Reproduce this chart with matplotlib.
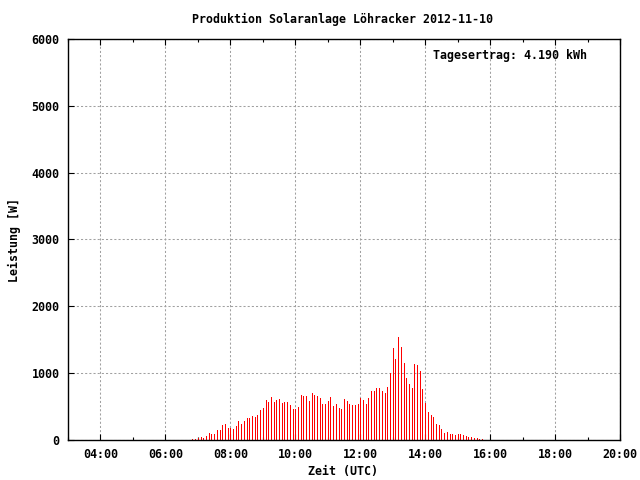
import numpy as np
import pandas as pd
import matplotlib
matplotlib.use("Agg")
import matplotlib.pyplot as plt
from matplotlib.ticker import MultipleLocator, FuncFormatter

# Leistung alle 5 Minuten ab 06:50 UTC
start_zeit = "2012-11-10 06:50"
leistung = [15, 15, 30, 45, 30, 60, 105, 90, 90, 150, 150, 225, 240, 180,
            180, 165, 210, 285, 240, 285, 330, 330, 360, 345, 375, 450,
            480, 600, 570, 645, 570, 600, 615, 555, 570, 570, 525, 465,
            465, 495, 675, 660, 660, 585, 705, 675, 660, 630, 540, 540,
            585, 645, 510, 540, 480, 465, 615, 585, 540, 525, 525, 540,
            630, 600, 540, 630, 735, 735, 780, 780, 735, 705, 795, 1005,
            1380, 1215, 1545, 1395, 1155, 930, 840, 780, 1140, 1125, 1035, 765,
            555, 420, 375, 345, 240, 225, 165, 105, 120, 90, 90, 75,
            90, 90, 75, 60, 45, 45, 30, 30, 15, 15]
titel = "Produktion Solaranlage Löhracker 2012-11-10"
ertrag_text = "Tagesertrag: 4.190 kWh"

zeiten = pd.date_range(start_zeit, periods=len(leistung), freq="5min")
stunden = zeiten.hour + zeiten.minute / 60.0

font = dict(family="DejaVu Sans Mono", weight="bold", size=8.4)

fig = plt.figure(figsize=(6.4, 4.8), dpi=100)
ax = fig.add_axes([68 / 640, 1 - 440 / 480, (620 - 68) / 640, (440 - 39) / 480])

ax.vlines(stunden, 0, leistung, colors="red", linewidth=0.6, antialiased=False)

ax.set_xlim(3, 20)
ax.set_ylim(0, 6000)
ax.xaxis.set_major_locator(MultipleLocator(2))
ax.xaxis.set_minor_locator(MultipleLocator(1))
ax.yaxis.set_major_locator(MultipleLocator(1000))
ax.xaxis.set_major_formatter(FuncFormatter(lambda v, p: "%02d:00" % int(round(v))))

ax.grid(True, which="major", color="#a0a0a0", linestyle=(0, (2, 2)), linewidth=0.75)
ax.tick_params(which="both", direction="in", top=True, right=False, width=0.8)
ax.tick_params(which="major", length=4, pad=6)
ax.tick_params(which="minor", length=2.5)
for s in ax.spines.values():
    s.set_linewidth(1.0)
for lbl in ax.get_xticklabels() + ax.get_yticklabels():
    lbl.set_fontfamily(font["family"])
    lbl.set_fontweight("bold")
    lbl.set_fontsize(font["size"])

fig.text(343 / 640, 1 - 19 / 480, titel, ha="center", va="center", **font)
fig.text(343 / 640, 1 - 472 / 480, "Zeit (UTC)", ha="center", va="center", **font)
fig.text(14 / 640, 1 - 240 / 480, "Leistung [W]", ha="center", va="center", rotation=90, **font)
fig.text(433 / 640, 1 - 56 / 480, ertrag_text, ha="left", va="center", **font)

fig.savefig("out.png", dpi=100)
